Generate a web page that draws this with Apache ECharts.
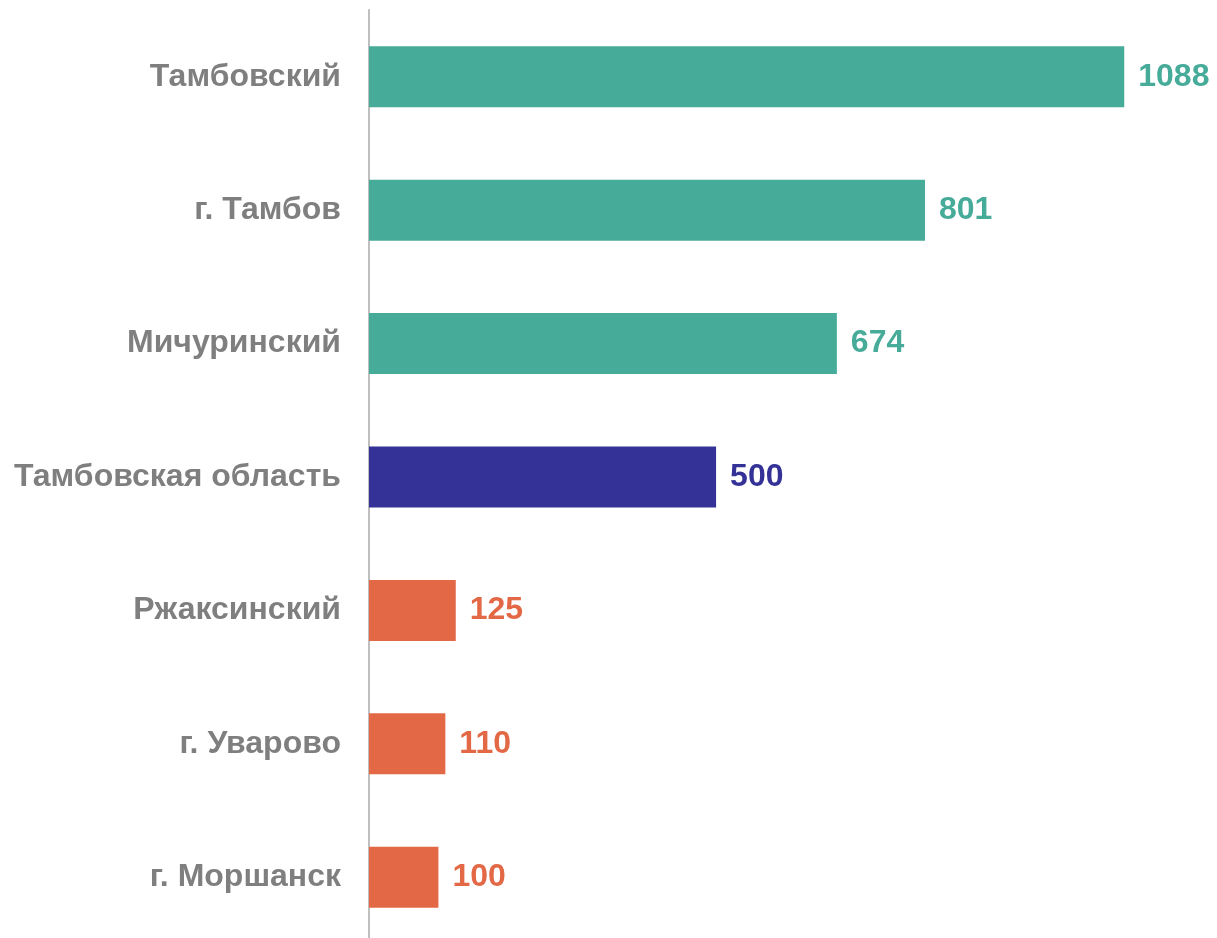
<!DOCTYPE html>
<html>
<head>
<meta charset="utf-8">
<title>chart</title>
<script src="https://cdn.jsdelivr.net/npm/echarts@6/dist/echarts.min.js"></script>
<style>
	html, body { margin: 0; padding: 0; background: #fff; overflow: hidden; }
	#chart { width: 1217px; height: 944px; }
</style>
</head>
<body>
<div id="chart"></div>
<script>
var categories = ['Тамбовский', 'г. Тамбов', 'Мичуринский', 'Тамбовская область', 'Ржаксинский', 'г. Уварово', 'г. Моршанск'];
var values = [1088, 801, 674, 500, 125, 110, 100];
var groups = ['high', 'high', 'high', 'region', 'low', 'low', 'low'];

var palette = {
	high: '#46ab98',
	region: '#353297',
	low: '#e36946'
};
var font = '"Liberation Sans", Arial, sans-serif';

var seriesData = [];
for (var i = 0; i < values.length; i++) {
	var c = palette[groups[i]];
	seriesData.push({
		value: values[i],
		itemStyle: { color: c },
		label: { color: c }
	});
}

var chart = echarts.init(document.getElementById('chart'));
chart.setOption({
	animation: false,
	grid: {
		left: 369,
		top: 10,
		width: 833,
		bottom: 0
	},
	xAxis: {
		type: 'value',
		min: 0,
		max: 1200,
		show: false
	},
	yAxis: {
		type: 'category',
		inverse: true,
		data: categories,
		axisLine: { show: true, lineStyle: { color: '#bfbfbf', width: 2 } },
		axisTick: { show: false },
		axisLabel: {
			margin: 28,
			color: '#7f7f7f',
			fontSize: 32,
			fontWeight: 'bold',
			fontFamily: font
		}
	},
	series: [{
		type: 'bar',
		barWidth: 61,
		data: seriesData,
		label: {
			show: true,
			position: 'right',
			distance: 14,
			fontSize: 32,
			fontWeight: 'bold',
			fontFamily: font
		}
	}]
});
</script>
</body>
</html>
